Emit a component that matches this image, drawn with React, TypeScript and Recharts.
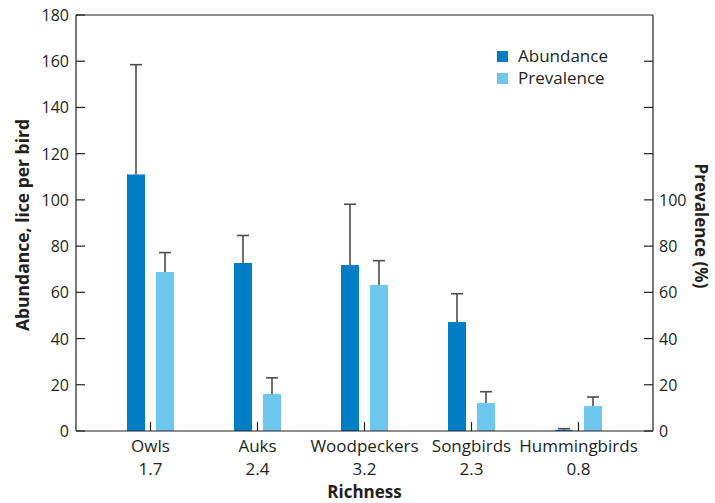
import React from "react";
import { BarChart, Bar, XAxis, YAxis, ReferenceLine } from "recharts";

// values
const birds = ["Owls", "Auks", "Woodpeckers", "Songbirds", "Hummingbirds"];
const richness = ["1.7", "2.4", "3.2", "2.3", "0.8"];
const abundance = [111, 72.7, 71.8, 47.2, 0.5];
const abundanceErr = [47.5, 11.9, 26.3, 12.2, 0.5];
const prevalence = [68.8, 16, 63.2, 12.1, 10.8];
const prevalenceErr = [8.4, 7, 10.5, 4.9, 3.9];

const leftTicks = [0, 20, 40, 60, 80, 100, 120, 140, 160, 180];
const rightTicks = [0, 20, 40, 60, 80, 100, 120, 140, 160];
const rightLabelMax = 100;

const DARK_BLUE = "#007DC5";
const LIGHT_BLUE = "#6EC7EF";
const AXIS = "#231f20";
const ERR = "#4d4d4f";
const FONT = "'Open Sans', sans-serif";

const legendItems = [
  { label: "Abundance", color: DARK_BLUE },
  { label: "Prevalence", color: LIGHT_BLUE },
];

const data = birds.map((name, i) => ({
  name,
  richness: richness[i],
  abundance: abundance[i],
  abundanceErr: abundanceErr[i],
  prevalence: prevalence[i],
  prevalenceErr: prevalenceErr[i],
}));

// bar with an upper-only error whisker, scaled from the bar's own pixel height
function barWithError(valueKey: string, errKey: string) {
  return (props: any) => {
    const { x, y, width, height, fill, payload } = props;
    const v = payload[valueKey];
    const ppu = v ? height / v : 0;
    const top = y - payload[errKey] * ppu;
    const cx = x + width / 2;
    return (
      <g>
        <rect x={x} y={y} width={width} height={height} fill={fill} />
        <line x1={cx} x2={cx} y1={y} y2={top} stroke={ERR} strokeWidth={1.6} />
        <line x1={cx - 6} x2={cx + 6} y1={top} y2={top} stroke={ERR} strokeWidth={1.6} />
      </g>
    );
  };
}

const LEFT_TM = 7;
const RIGHT_TM = 6;

const LeftTick = ({ x, y, payload }: any) => (
  <g>
    <line x1={x + LEFT_TM} x2={x + LEFT_TM + 9} y1={y} y2={y} stroke={AXIS} strokeWidth={1.2} />
    <text x={x} y={y} dy={6} textAnchor="end" fontSize={16} fontFamily={FONT} fill={AXIS}>
      {payload.value}
    </text>
  </g>
);

const RightTick = ({ x, y, payload }: any) => (
  <g>
    <line x1={x - RIGHT_TM - 9} x2={x - RIGHT_TM} y1={y} y2={y} stroke={AXIS} strokeWidth={1.2} />
    {payload.value <= rightLabelMax && (
      <text x={x} y={y} dy={6} textAnchor="start" fontSize={16} fontFamily={FONT} fill={AXIS}>
        {payload.value}
      </text>
    )}
  </g>
);

const BottomTick = ({ x, y, payload, index }: any) => (
  <g>
    <line x1={x} x2={x} y1={y - 9} y2={y} stroke={AXIS} strokeWidth={1.2} />
    <text x={x} y={y + 21} textAnchor="middle" fontSize={17} fontFamily={FONT} fill={AXIS}>
      {payload.value}
    </text>
    <text x={x} y={y + 44} textAnchor="middle" fontSize={17} fontFamily={FONT} fill={AXIS}>
      {richness[index]}
    </text>
  </g>
);

export default function App() {
  return (
    <div style={{ position: "absolute", left: 0, top: 0, width: 715, height: 503, background: "#fff" }}>
      <BarChart
        width={715}
        height={503}
        data={data}
        margin={{ top: 15, right: 61, left: 75, bottom: 71 }}
        barSize={18}
        barGap={11}
      >
        <XAxis
          dataKey="name"
          height={1}
          padding={{ left: 21, right: 21 }}
          stroke={AXIS}
          strokeWidth={1.2}
          tickLine={false}
          tickSize={0}
          tickMargin={0}
          tick={<BottomTick />}
          interval={0}
          label={({ viewBox }: any) => (
            <text
              x={viewBox.x + viewBox.width / 2}
              y={viewBox.y + 67}
              textAnchor="middle"
              fontFamily={FONT}
              fontSize={17}
              fontWeight={700}
              fill={AXIS}
            >
              Richness
            </text>
          )}
        />
        <YAxis
          yAxisId="left"
          width={1}
          domain={[0, 180]}
          ticks={leftTicks}
          stroke={AXIS}
          strokeWidth={1.2}
          tickLine={false}
          tickSize={0}
          tickMargin={LEFT_TM}
          tick={<LeftTick />}
          label={({ viewBox }: any) => {
            const cx = viewBox.x + viewBox.width - 54;
            const cy = viewBox.y + viewBox.height / 2 + 2;
            return (
              <text
                x={cx}
                y={cy}
                transform={`rotate(-90 ${cx} ${cy})`}
                textAnchor="middle"
                dominantBaseline="central"
                fontFamily={FONT}
                fontSize={17.5}
                fontWeight={700}
                fill={AXIS}
              >
                Abundance, lice per bird
              </text>
            );
          }}
        />
        <YAxis
          yAxisId="right"
          orientation="right"
          width={1}
          domain={[0, 180]}
          ticks={rightTicks}
          stroke={AXIS}
          strokeWidth={1.2}
          tickLine={false}
          tickSize={0}
          tickMargin={RIGHT_TM}
          tick={<RightTick />}
          label={({ viewBox }: any) => {
            const cx = viewBox.x + 48;
            const cy = viewBox.y + viewBox.height / 2 + 3;
            return (
              <text
                x={cx}
                y={cy}
                transform={`rotate(90 ${cx} ${cy})`}
                textAnchor="middle"
                dominantBaseline="central"
                fontFamily={FONT}
                fontSize={17}
                fontWeight={700}
                fill={AXIS}
              >
                Prevalence (%)
              </text>
            );
          }}
        />
        <ReferenceLine yAxisId="left" y={180} stroke={AXIS} strokeWidth={1.2} />
        <Bar
          yAxisId="left"
          dataKey="abundance"
          fill={DARK_BLUE}
          isAnimationActive={false}
          shape={barWithError("abundance", "abundanceErr")}
        />
        <Bar
          yAxisId="right"
          dataKey="prevalence"
          fill={LIGHT_BLUE}
          isAnimationActive={false}
          shape={barWithError("prevalence", "prevalenceErr")}
        />
      </BarChart>
      <div
        style={{
          position: "absolute",
          left: 497,
          top: 45,
          fontFamily: FONT,
          fontSize: 17,
          color: AXIS,
          lineHeight: "22px",
        }}
      >
        {legendItems.map((e) => (
          <div key={e.label} style={{ display: "flex", alignItems: "center" }}>
            <span
              style={{ width: 11, height: 11, background: e.color, display: "inline-block", marginRight: 10 }}
            />
            {e.label}
          </div>
        ))}
      </div>
    </div>
  );
}
